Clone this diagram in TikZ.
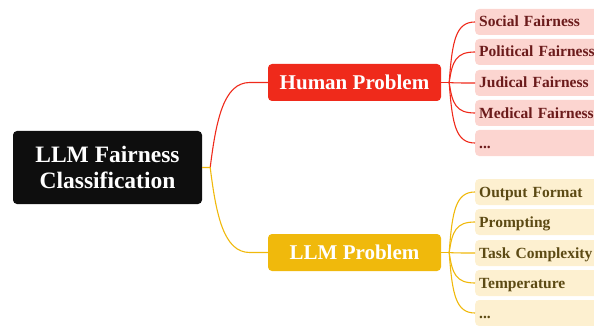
\documentclass[tikz,border=0pt]{standalone}
\usepackage{fontspec}
\setmainfont{Liberation Serif}
\usetikzlibrary{calc}
\definecolor{rootfill}{HTML}{0E0E0E}
\definecolor{humanred}{HTML}{EF2A1B}
\definecolor{humanleaf}{HTML}{FCD5D0}
\definecolor{humantext}{HTML}{6B1B1B}
\definecolor{llmgold}{HTML}{F0B90C}
\definecolor{llmleaf}{HTML}{FDF0D0}
\definecolor{llmtext}{HTML}{5C4A14}
\tikzset{
  rootbox/.style={fill=rootfill, rounded corners=4pt, minimum width=189pt, minimum height=73pt,
    text=white, align=center, font=\bfseries\fontsize{23.5}{26}\selectfont},
  midbox/.style={rounded corners=4pt, minimum width=173pt, minimum height=37pt, inner sep=0pt,
    text=white, text height=16pt, text depth=2pt, font=\bfseries\fontsize{21}{24}\selectfont},
  leafbox/.style={anchor=west, rounded corners=4pt, text width=122pt, align=left,
    inner xsep=4pt, inner ysep=0pt, minimum height=26pt, text height=12pt, text depth=2pt,
    font=\bfseries\fontsize{15.5}{18}\selectfont},
  hleaf/.style={leafbox, fill=humanleaf, text=humantext},
  lleaf/.style={leafbox, fill=llmleaf, text=llmtext},
  hlink/.style={draw=humanred, line width=1.1pt},
  llink/.style={draw=llmgold, line width=1.1pt},
}
\begin{document}
\begin{tikzpicture}[x=1pt, y=-1pt]
\useasboundingbox (0,0) rectangle (594,326);

% main nodes
\node[rootbox] (root) at (107.5,167.5) {LLM Fairness\\Classification};
\node[midbox, fill=humanred] (hp) at (354.5,82.5) {Human Problem};
\node[midbox, fill=llmgold] (lp) at (354.5,252.5) {LLM Problem};

% leaves of the human branch
\node[hleaf] (h1) at (475,22) {Social Fairness};
\node[hleaf] (h2) at (475,52) {Political Fairness};
\node[hleaf] (h3) at (475,83) {Judical Fairness};
\node[hleaf] (h4) at (475,113) {Medical Fairness};
\node[hleaf] (h5) at (475,143) {...};

% leaves of the LLM branch
\node[lleaf] (l1) at (475,192) {Output Format};
\node[lleaf] (l2) at (475,222) {Prompting};
\node[lleaf] (l3) at (475,253) {Task Complexity};
\node[lleaf] (l4) at (475,283) {Temperature};
\node[lleaf] (l5) at (475,313) {...};

% junction points
\coordinate (rj) at ($(root.east)+(8,0)$);
\coordinate (hj) at ($(hp.east)+(8,0)$);
\coordinate (lj) at ($(lp.east)+(8,0)$);

% root to branches
\draw[hlink] (rj) .. controls ($(rj)+(6,-48)$) and ($(hp.west)+(-44,0)$) .. ($(hp.west)+(-18,0)$) -- (hp.west);
\draw[llink] (root.east) -- (rj) .. controls ($(rj)+(6,48)$) and ($(lp.west)+(-44,0)$) .. ($(lp.west)+(-18,0)$) -- (lp.west);

% branches to leaves
\draw[hlink] (hp.east) -- (hj);
\foreach \lf in {h1,h2,h3,h4,h5}{
  \draw[hlink] let \p1=(hj), \p2=(\lf.west) in
    (hj) .. controls (\x1+3pt,{\y1+0.7*(\y2-\y1)}) and (\x2-19pt,\y2) .. (\lf.west);
}
\draw[llink] (lp.east) -- (lj);
\foreach \lf in {l1,l2,l3,l4,l5}{
  \draw[llink] let \p1=(lj), \p2=(\lf.west) in
    (lj) .. controls (\x1+3pt,{\y1+0.7*(\y2-\y1)}) and (\x2-19pt,\y2) .. (\lf.west);
}
\end{tikzpicture}
\end{document}
